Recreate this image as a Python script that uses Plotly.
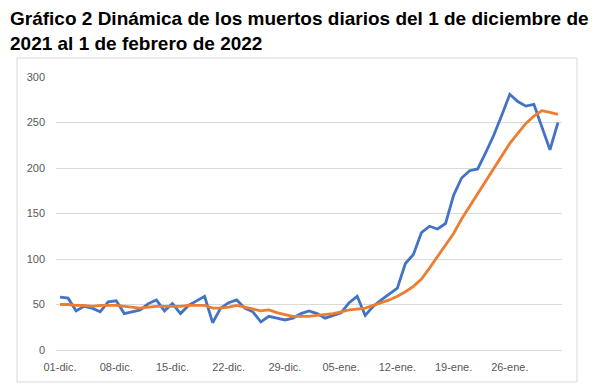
import plotly.graph_objects as go

tick_labels = ["01-dic.", "08-dic.", "15-dic.", "22-dic.", "29-dic.", "05-ene.", "12-ene.", "19-ene.", "26-ene."]
tick_positions = [0, 7, 14, 21, 28, 35, 42, 49, 56]

daily = [58, 57, 43, 48, 46, 42, 53, 54, 40, 42, 44, 51, 55, 43, 51, 40, 49, 54, 59, 30,
         46, 52, 55, 46, 42, 31, 37, 35, 33, 35, 40, 43, 40, 35, 38, 41, 52, 59, 38, 48,
         55, 62, 68, 95, 105, 129, 136, 133, 139, 170, 189, 197, 199, 217, 236, 258, 281,
         273, 268, 270, 245, 220, 250]
average = [50, 50, 49, 49, 48, 49, 49, 49, 48, 47, 46, 47, 48, 48, 48, 48, 49, 49, 49, 46,
           46, 47, 49, 47, 45, 43, 44, 41, 39, 37, 37, 37, 38, 39, 40, 42, 44, 45, 46, 49,
           52, 55, 59, 64, 70, 78, 90, 103, 116, 128, 144, 158, 171, 186, 200, 214, 227,
           238, 249, 257, 263, 261, 259]
days = list(range(len(daily)))

title_text = "Gráfico 2 Dinámica de los muertos diarios del 1 de diciembre de<br>2021 al 1 de febrero de 2022"

fig = go.Figure()
fig.add_trace(go.Scatter(x=days, y=daily, mode="lines", line=dict(color="#4472C4", width=2.8), showlegend=False))
fig.add_trace(go.Scatter(x=days, y=average, mode="lines", line=dict(color="#ED7D31", width=2.8), showlegend=False))

fig.update_layout(
    width=609, height=388,
    margin=dict(l=48, r=55, t=69, b=46, autoexpand=False),
    paper_bgcolor="white", plot_bgcolor="white",
    font=dict(family="Liberation Sans, Arial, sans-serif"),
    xaxis=dict(range=[-0.5, 62.5], tickvals=tick_positions, ticktext=tick_labels,
               showgrid=False, zeroline=False, showline=False, ticks="", automargin=False,
               ticklabelstandoff=9,
               tickfont=dict(size=11, color="#595959")),
    yaxis=dict(range=[0, 300], dtick=50, showgrid=True, gridcolor="#D9D9D9", gridwidth=1,
               zeroline=True, zerolinecolor="#D9D9D9", zerolinewidth=1, showline=False, ticks="",
               automargin=False, ticklabelstandoff=10,
               tickfont=dict(size=11, color="#595959")),
    shapes=[dict(type="rect", xref="paper", yref="paper", x0=-0.077, x1=1.0296, y0=-0.117, y1=1.0696,
                 line=dict(color="#D9D9D9", width=1), layer="below")],
    annotations=[dict(text=title_text, xref="paper", yref="paper",
                      x=(0 - 48) / 506, y=(342 + 2) / 273, xanchor="left", yanchor="top",
                      align="left", showarrow=False,
                      font=dict(family="Liberation Sans, Arial, sans-serif", size=19,
                                color="black", weight="bold"))],
)

fig.write_html("out.html")
